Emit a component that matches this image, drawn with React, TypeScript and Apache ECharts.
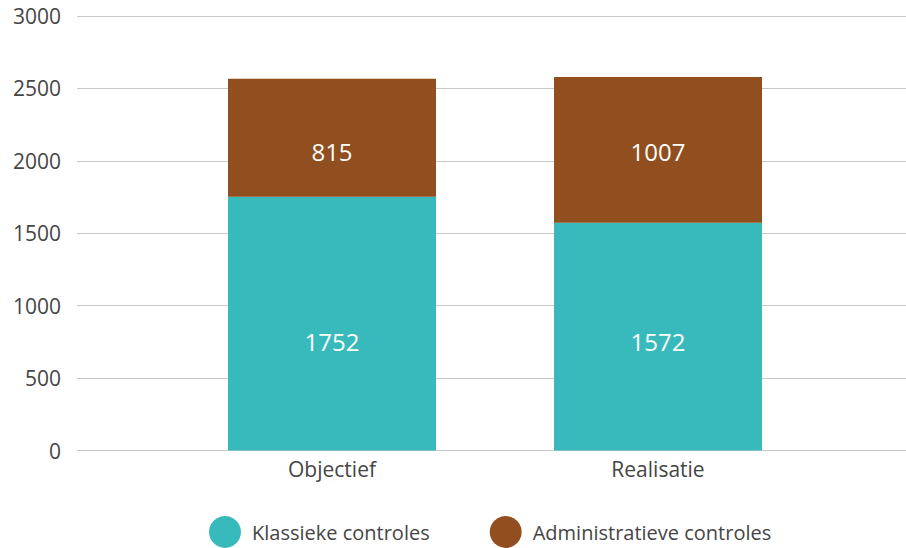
import React, { useEffect, useRef } from "react";
import * as echarts from "echarts";

const categories = ["Objectief", "Realisatie"];
const klassiekeControles = [1752, 1572];
const administratieveControles = [815, 1007];
const seriesNames = ["Klassieke controles", "Administratieve controles"];
const yTicks = { min: 0, max: 3000, interval: 500 };

// label vertical nudges (style only)
const klassiekeLabelOffset = [18, 5];
const adminLabelOffset = [14, 2];

const FONT = "'Open Sans', 'Noto Sans', sans-serif";
const TEAL = "#38BABC";
const BROWN = "#914E1E";
const TEXT = "#454545";

export default function App() {
  const ref = useRef<HTMLDivElement>(null);
  useEffect(() => {
    if (!ref.current) return;
    const chart = echarts.init(ref.current, undefined, { renderer: "svg" });
    const labelBase = {
      show: true,
      position: "inside",
      color: "#ffffff",
      fontSize: 24,
      fontFamily: FONT,
    };
    chart.setOption({
      animation: false,
      textStyle: { fontFamily: FONT },
      grid: [
        { left: 77, right: 0, top: 16, bottom: 97.5 },
        { left: 169, right: 85, top: 16, bottom: 97.5 },
      ],
      xAxis: [
        { type: "value", gridIndex: 0, show: false, min: 0, max: 1 },
        {
          type: "category",
          gridIndex: 1,
          data: categories,
          axisLine: { show: false },
          axisTick: { show: false },
          axisLabel: { fontSize: 21, color: TEXT, margin: 8, fontFamily: FONT },
        },
      ],
      yAxis: [
        {
          type: "value",
          gridIndex: 0,
          min: yTicks.min,
          max: yTicks.max,
          interval: yTicks.interval,
          axisLine: { show: false },
          axisTick: { show: false },
          axisLabel: {
            fontSize: 21,
            color: TEXT,
            margin: 16,
            fontFamily: FONT,
            formatter: (v: number) => String(v),
          },
          splitLine: { lineStyle: { color: "#c8c8c8", width: 1 } },
        },
        {
          type: "value",
          gridIndex: 1,
          min: yTicks.min,
          max: yTicks.max,
          interval: yTicks.interval,
          show: false,
          splitLine: { show: false },
        },
      ],
      legend: {
        left: 204,
        top: 511,
        icon: "circle",
        itemWidth: 32,
        itemHeight: 32,
        itemGap: 60,
        textStyle: { fontSize: 20, color: TEXT, fontFamily: FONT, padding: [0, 0, 0, 6] },
        data: seriesNames,
      },
      series: [
        {
          name: seriesNames[0],
          type: "bar",
          stack: "total",
          xAxisIndex: 1,
          yAxisIndex: 1,
          barWidth: 208,
          itemStyle: { color: TEAL },
          label: labelBase,
          data: klassiekeControles.map((v, i) => ({
            value: v,
            label: { offset: [0, klassiekeLabelOffset[i]] },
          })),
        },
        {
          name: seriesNames[1],
          type: "bar",
          stack: "total",
          xAxisIndex: 1,
          yAxisIndex: 1,
          barWidth: 208,
          itemStyle: { color: BROWN },
          label: labelBase,
          data: administratieveControles.map((v, i) => ({
            value: v,
            label: { offset: [0, adminLabelOffset[i]] },
          })),
        },
      ],
    });
    return () => chart.dispose();
  }, []);
  return (
    <div
      ref={ref}
      style={{ position: "fixed", left: 0, top: 0, width: 906, height: 548, background: "#fff" }}
    />
  );
}
